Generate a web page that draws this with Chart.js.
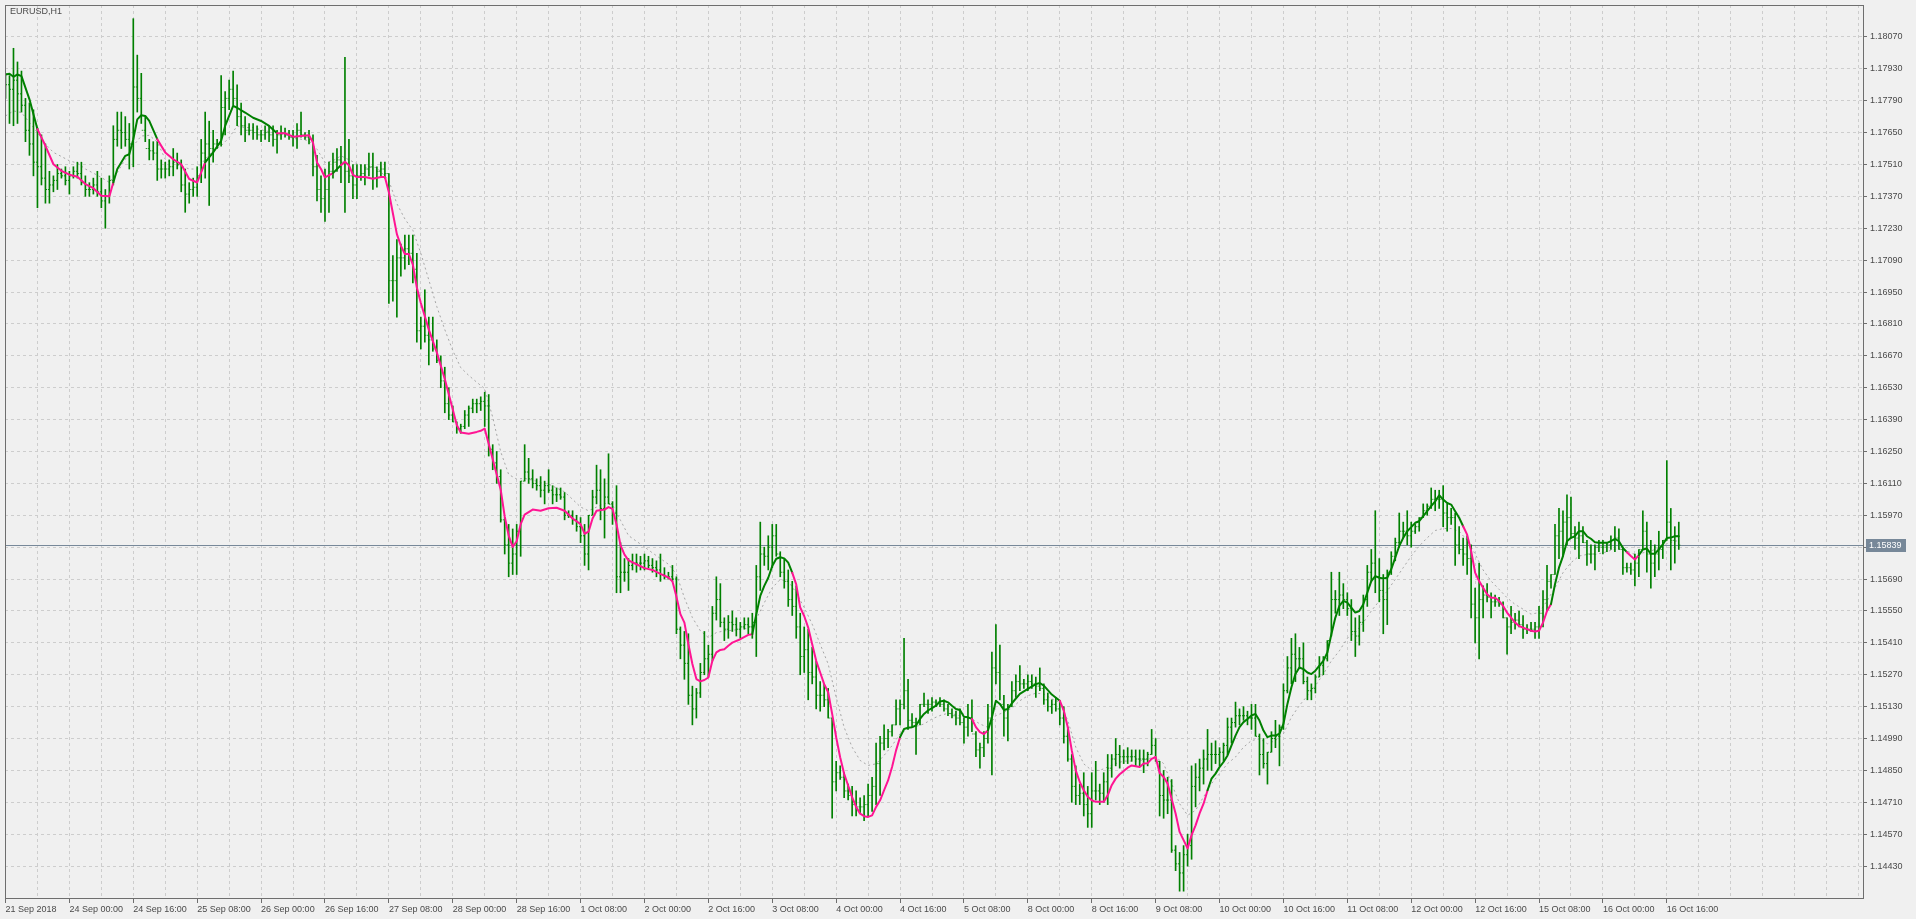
<!DOCTYPE html>
<html>
<head>
<meta charset="utf-8">
<title>EURUSD,H1</title>
<script src="https://cdn.jsdelivr.net/npm/chart.js@4.4.0/dist/chart.umd.min.js"></script>
<style>
  html, body { margin: 0; padding: 0; background: #f0f0f0; overflow: hidden; }
  canvas { display: block; }
</style>
</head>
<body>
<canvas id="chart" width="1916" height="919"></canvas>
<script>
// EURUSD H1, 21 Sep 2018 08:00 .. 16 Oct 2018 19:00 (one entry per hourly bar)
const symbolName = 'EURUSD,H1';

// labels under every 16th bar
const timeLabels = ['21 Sep 2018','24 Sep 00:00','24 Sep 16:00','25 Sep 08:00','26 Sep 00:00','26 Sep 16:00',
  '27 Sep 08:00','28 Sep 00:00','28 Sep 16:00','1 Oct 08:00','2 Oct 00:00','2 Oct 16:00','3 Oct 08:00',
  '4 Oct 00:00','4 Oct 16:00','5 Oct 08:00','8 Oct 00:00','8 Oct 16:00','9 Oct 08:00','10 Oct 00:00',
  '10 Oct 16:00','11 Oct 08:00','12 Oct 00:00','12 Oct 16:00','15 Oct 08:00','16 Oct 00:00','16 Oct 16:00'];

const priceTicks = [1.14430,1.14570,1.14710,1.14850,1.14990,1.15130,1.15270,1.15410,1.15550,1.15690,
  1.15830,1.15970,1.16110,1.16250,1.16390,1.16530,1.16670,1.16810,1.16950,1.17090,1.17230,1.17370,
  1.17510,1.17650,1.17790,1.17930,1.18070];

const highs = [
  1.1791,1.1790,1.1802,1.1796,1.1792,1.1780,1.1778,1.1775,1.1767,1.1764,
  1.1760,1.1748,1.1746,1.1751,1.1749,1.1750,1.1748,1.1750,1.1752,1.1752,
  1.1746,1.1743,1.1745,1.1748,1.1745,1.1740,1.1746,1.1768,1.1774,1.1774,
  1.1772,1.1769,1.1815,1.1799,1.1791,1.1772,1.1762,1.1761,1.1761,1.1753,
  1.1752,1.1753,1.1758,1.1756,1.1753,1.1749,1.1743,1.1745,1.1750,1.1762,
  1.1774,1.1770,1.1766,1.1762,1.1790,1.1783,1.1788,1.1792,1.1786,1.1778,
  1.1772,1.1769,1.1769,1.1768,1.1766,1.1768,1.1768,1.1768,1.1766,1.1768,
  1.1767,1.1766,1.1766,1.1769,1.1774,1.1765,1.1766,1.1764,1.1755,1.1746,
  1.1749,1.1752,1.1756,1.1758,1.1759,1.1798,1.1762,1.1751,1.1751,1.1751,
  1.1751,1.1756,1.1756,1.1750,1.1752,1.1752,1.1747,1.1711,1.1718,1.1716,
  1.1720,1.1720,1.1720,1.1712,1.1684,1.1696,1.1684,1.1684,1.1674,1.1667,
  1.1662,1.1653,1.1645,1.1638,1.1637,1.1643,1.1645,1.1648,1.1648,1.1649,
  1.1651,1.1650,1.1628,1.1625,1.1617,1.1596,1.1593,1.1591,1.1593,1.1612,
  1.1628,1.1622,1.1617,1.1613,1.1614,1.1612,1.1617,1.1610,1.1609,1.1609,
  1.1607,1.1599,1.1599,1.1597,1.1596,1.1593,1.1597,1.1608,1.1619,1.1617,
  1.1613,1.1624,1.1603,1.1610,1.1585,1.1578,1.1578,1.1580,1.1580,1.1579,
  1.1580,1.1579,1.1578,1.1577,1.1580,1.1574,1.1572,1.1575,1.1570,1.1548,
  1.1546,1.1545,1.1522,1.1521,1.1532,1.1546,1.1540,1.1557,1.1570,1.1567,
  1.1552,1.1553,1.1555,1.1552,1.1550,1.1552,1.1552,1.1554,1.1575,1.1594,
  1.1583,1.1588,1.1593,1.1593,1.1581,1.1578,1.1573,1.1568,1.1566,1.1554,
  1.1548,1.1547,1.1539,1.1533,1.1524,1.1523,1.1521,1.1508,1.1489,1.1487,
  1.1484,1.1479,1.1478,1.1476,1.1473,1.1474,1.1479,1.1482,1.1497,1.1500,
  1.1505,1.1503,1.1505,1.1516,1.1516,1.1543,1.1525,1.1510,1.1508,1.1514,
  1.1519,1.1516,1.1517,1.1516,1.1517,1.1516,1.1514,1.1512,1.1511,1.1512,
  1.1508,1.1514,1.1516,1.1502,1.1497,1.1502,1.1514,1.1537,1.1549,1.1540,
  1.1518,1.1514,1.1524,1.1527,1.1531,1.1525,1.1527,1.1527,1.1526,1.1530,
  1.1523,1.1519,1.1516,1.1517,1.1515,1.1513,1.1504,1.1492,1.1487,1.1479,
  1.1484,1.1478,1.1484,1.1489,1.1479,1.1484,1.1492,1.1492,1.1499,1.1496,
  1.1494,1.1495,1.1494,1.1494,1.1494,1.1494,1.1493,1.1503,1.1499,1.1489,
  1.1485,1.1482,1.1481,1.1452,1.1449,1.1452,1.1457,1.1487,1.1488,1.1490,
  1.1494,1.1503,1.1497,1.1498,1.1495,1.1497,1.1508,1.1508,1.1515,1.1512,
  1.1513,1.1511,1.1514,1.1514,1.1501,1.1499,1.1493,1.1502,1.1507,1.1505,
  1.1523,1.1535,1.1543,1.1545,1.1539,1.1541,1.1526,1.1523,1.1527,1.1535,
  1.1535,1.1542,1.1572,1.1564,1.1572,1.1567,1.1563,1.1560,1.1552,1.1553,
  1.1562,1.1575,1.1582,1.1599,1.1578,1.1571,1.1573,1.1581,1.1587,1.1598,
  1.1594,1.1599,1.1594,1.1593,1.1596,1.1602,1.1602,1.1609,1.1608,1.1608,
  1.1610,1.1602,1.1600,1.1598,1.1592,1.1587,1.1588,1.1584,1.1565,1.1576,
  1.1566,1.1567,1.1563,1.1562,1.1561,1.1559,1.1552,1.1557,1.1554,1.1555,
  1.1553,1.1549,1.1550,1.1550,1.1557,1.1564,1.1575,1.1571,1.1593,1.1600,
  1.1599,1.1606,1.1605,1.1592,1.1594,1.1592,1.1586,1.1584,1.1584,1.1586,
  1.1586,1.1585,1.1588,1.1592,1.1591,1.1583,1.1576,1.1576,1.1580,1.1582,
  1.1599,1.1594,1.1586,1.1584,1.1590,1.1586,1.1621,1.1600,1.1592,1.1594
];

const lows = [
  1.1780,1.1769,1.1768,1.1769,1.1774,1.1761,1.1755,1.1746,1.1732,1.1742,
  1.1734,1.1734,1.1739,1.1740,1.1745,1.1742,1.1738,1.1745,1.1745,1.1742,
  1.1737,1.1737,1.1738,1.1737,1.1732,1.1723,1.1734,1.1742,1.1759,1.1758,
  1.1759,1.1749,1.1750,1.1774,1.1769,1.1761,1.1753,1.1753,1.1744,1.1745,
  1.1745,1.1746,1.1746,1.1749,1.1739,1.1730,1.1734,1.1737,1.1737,1.1743,
  1.1745,1.1733,1.1752,1.1758,1.1759,1.1764,1.1775,1.1777,1.1768,1.1764,
  1.1761,1.1764,1.1762,1.1762,1.1761,1.1762,1.1761,1.1759,1.1756,1.1762,
  1.1763,1.1762,1.1759,1.1758,1.1763,1.1762,1.1760,1.1746,1.1735,1.1730,
  1.1726,1.1730,1.1745,1.1748,1.1743,1.1730,1.1743,1.1736,1.1736,1.1744,
  1.1742,1.1746,1.1740,1.1741,1.1746,1.1745,1.1690,1.1691,1.1684,1.1702,
  1.1705,1.1707,1.1699,1.1673,1.1670,1.1673,1.1663,1.1669,1.1664,1.1653,
  1.1642,1.1639,1.1638,1.1633,1.1633,1.1635,1.1636,1.1642,1.1642,1.1643,
  1.1636,1.1623,1.1617,1.1611,1.1594,1.1580,1.1570,1.1571,1.1571,1.1579,
  1.1612,1.1611,1.1609,1.1608,1.1605,1.1602,1.1607,1.1602,1.1603,1.1604,
  1.1595,1.1596,1.1593,1.1590,1.1585,1.1575,1.1573,1.1597,1.1602,1.1595,
  1.1587,1.1602,1.1593,1.1563,1.1563,1.1568,1.1564,1.1573,1.1572,1.1573,
  1.1573,1.1574,1.1572,1.1570,1.1568,1.1569,1.1569,1.1568,1.1545,1.1534,
  1.1525,1.1514,1.1505,1.1508,1.1517,1.1527,1.1526,1.1533,1.1551,1.1548,
  1.1542,1.1543,1.1546,1.1544,1.1543,1.1547,1.1545,1.1543,1.1535,1.1564,
  1.1575,1.1573,1.1574,1.1579,1.1570,1.1565,1.1557,1.1553,1.1543,1.1527,
  1.1528,1.1516,1.1523,1.1512,1.1511,1.1513,1.1508,1.1464,1.1476,1.1481,
  1.1473,1.1472,1.1465,1.1465,1.1466,1.1463,1.1465,1.1467,1.1470,1.1474,
  1.1494,1.1495,1.1500,1.1505,1.1505,1.1512,1.1503,1.1504,1.1492,1.1505,
  1.1513,1.1510,1.1511,1.1513,1.1513,1.1511,1.1509,1.1508,1.1505,1.1505,
  1.1497,1.1500,1.1502,1.1491,1.1486,1.1491,1.1497,1.1483,1.1523,1.1516,
  1.1500,1.1498,1.1513,1.1517,1.1520,1.1521,1.1520,1.1521,1.1517,1.1520,
  1.1514,1.1511,1.1510,1.1511,1.1505,1.1497,1.1489,1.1471,1.1470,1.1470,
  1.1465,1.1460,1.1460,1.1472,1.1470,1.1471,1.1470,1.1482,1.1487,1.1486,
  1.1488,1.1488,1.1489,1.1487,1.1487,1.1484,1.1487,1.1492,1.1489,1.1465,
  1.1464,1.1466,1.1449,1.1441,1.1432,1.1432,1.1443,1.1446,1.1469,1.1476,
  1.1479,1.1485,1.1485,1.1488,1.1487,1.1489,1.1492,1.1497,1.1504,1.1505,
  1.1507,1.1505,1.1503,1.1500,1.1483,1.1486,1.1479,1.1493,1.1495,1.1487,
  1.1503,1.1519,1.1523,1.1524,1.1530,1.1523,1.1516,1.1516,1.1519,1.1526,
  1.1527,1.1533,1.1544,1.1554,1.1553,1.1556,1.1553,1.1542,1.1535,1.1540,
  1.1546,1.1557,1.1568,1.1563,1.1559,1.1545,1.1549,1.1571,1.1577,1.1583,
  1.1587,1.1584,1.1583,1.1589,1.1590,1.1596,1.1597,1.1600,1.1599,1.1600,
  1.1592,1.1590,1.1593,1.1575,1.1580,1.1575,1.1571,1.1552,1.1541,1.1534,
  1.1552,1.1559,1.1552,1.1557,1.1557,1.1552,1.1536,1.1545,1.1547,1.1548,
  1.1543,1.1545,1.1546,1.1543,1.1543,1.1548,1.1555,1.1565,1.1571,1.1578,
  1.1579,1.1584,1.1587,1.1582,1.1578,1.1585,1.1575,1.1576,1.1573,1.1581,
  1.1580,1.1581,1.1582,1.1581,1.1582,1.1571,1.1572,1.1571,1.1566,1.1570,
  1.1582,1.1572,1.1565,1.1570,1.1573,1.1578,1.1586,1.1573,1.1576,1.1582
];

const opens = [
  1.1788,1.1786,1.1784,1.1788,1.1782,1.1777,1.1766,1.1760,1.1752,1.1750,
  1.1745,1.1740,1.1742,1.1744,1.1747,1.1746,1.1744,1.1746,1.1748,1.1747,
  1.1743,1.1740,1.1740,1.1742,1.1739,1.1735,1.1737,1.1744,1.1762,1.1766,
  1.1765,1.1762,1.1760,1.1785,1.1780,1.1766,1.1758,1.1757,1.1756,1.1749,
  1.1749,1.1749,1.1750,1.1752,1.1751,1.1742,1.1738,1.1740,1.1741,1.1746,
  1.1756,1.1760,1.1758,1.1760,1.1760,1.1776,1.1780,1.1784,1.1780,1.1772,
  1.1768,1.1766,1.1766,1.1765,1.1764,1.1764,1.1765,1.1764,1.1762,1.1764,
  1.1765,1.1764,1.1763,1.1763,1.1766,1.1764,1.1763,1.1762,1.1750,1.1740,
  1.1736,1.1740,1.1748,1.1752,1.1753,1.1752,1.1748,1.1746,1.1742,1.1746,
  1.1747,1.1749,1.1750,1.1745,1.1748,1.1749,1.1747,1.1700,1.1700,1.1710,
  1.1710,1.1714,1.1712,1.1705,1.1678,1.1680,1.1676,1.1674,1.1670,1.1665,
  1.1656,1.1646,1.1641,1.1638,1.1635,1.1636,1.1641,1.1644,1.1646,1.1646,
  1.1647,1.1645,1.1626,1.1620,1.1614,1.1595,1.1584,1.1576,1.1580,1.1590,
  1.1612,1.1616,1.1613,1.1611,1.1610,1.1608,1.1610,1.1608,1.1606,1.1606,
  1.1605,1.1597,1.1597,1.1595,1.1592,1.1588,1.1580,1.1597,1.1605,1.1608,
  1.1600,1.1605,1.1602,1.1598,1.1570,1.1572,1.1572,1.1575,1.1576,1.1576,
  1.1576,1.1577,1.1575,1.1574,1.1573,1.1571,1.1570,1.1570,1.1569,1.1547,
  1.1540,1.1532,1.1518,1.1512,1.1519,1.1528,1.1534,1.1536,1.1554,1.1560,
  1.1550,1.1547,1.1550,1.1549,1.1547,1.1548,1.1549,1.1548,1.1550,1.1570,
  1.1580,1.1579,1.1583,1.1588,1.1580,1.1572,1.1568,1.1560,1.1557,1.1548,
  1.1535,1.1538,1.1528,1.1526,1.1518,1.1518,1.1516,1.1508,1.1480,1.1484,
  1.1482,1.1476,1.1474,1.1470,1.1469,1.1469,1.1470,1.1474,1.1478,1.1488,
  1.1497,1.1499,1.1502,1.1505,1.1512,1.1514,1.1520,1.1507,1.1506,1.1506,
  1.1514,1.1514,1.1514,1.1515,1.1515,1.1514,1.1512,1.1510,1.1509,1.1508,
  1.1506,1.1504,1.1508,1.1501,1.1494,1.1495,1.1499,1.1508,1.1530,1.1528,
  1.1514,1.1508,1.1513,1.1520,1.1524,1.1523,1.1523,1.1524,1.1523,1.1522,
  1.1521,1.1516,1.1513,1.1514,1.1512,1.1508,1.1500,1.1490,1.1478,1.1474,
  1.1475,1.1470,1.1466,1.1476,1.1476,1.1475,1.1480,1.1486,1.1490,1.1492,
  1.1491,1.1491,1.1491,1.1491,1.1490,1.1490,1.1490,1.1492,1.1496,1.1489,
  1.1474,1.1472,1.1472,1.1450,1.1444,1.1440,1.1448,1.1452,1.1478,1.1482,
  1.1486,1.1490,1.1492,1.1492,1.1492,1.1493,1.1496,1.1504,1.1506,1.1509,
  1.1509,1.1509,1.1508,1.1508,1.1500,1.1492,1.1488,1.1493,1.1499,1.1500,
  1.1504,1.1520,1.1530,1.1536,1.1534,1.1534,1.1524,1.1520,1.1521,1.1526,
  1.1531,1.1534,1.1542,1.1560,1.1560,1.1562,1.1560,1.1556,1.1546,1.1544,
  1.1550,1.1560,1.1572,1.1576,1.1570,1.1564,1.1560,1.1572,1.1579,1.1585,
  1.1590,1.1590,1.1588,1.1590,1.1592,1.1596,1.1599,1.1601,1.1604,1.1604,
  1.1604,1.1598,1.1596,1.1596,1.1584,1.1582,1.1580,1.1578,1.1558,1.1552,
  1.1560,1.1562,1.1561,1.1559,1.1559,1.1558,1.1552,1.1548,1.1550,1.1551,
  1.1549,1.1547,1.1547,1.1547,1.1548,1.1554,1.1560,1.1568,1.1571,1.1588,
  1.1590,1.1594,1.1596,1.1589,1.1587,1.1588,1.1585,1.1580,1.1580,1.1583,
  1.1583,1.1583,1.1584,1.1586,1.1587,1.1582,1.1574,1.1574,1.1573,1.1576,
  1.1582,1.1590,1.1580,1.1576,1.1580,1.1582,1.1586,1.1594,1.1586,1.1588
];

const closes = [
  1.1786,1.1784,1.1788,1.1782,1.1777,1.1766,1.1760,1.1752,1.1750,1.1745,
  1.1740,1.1742,1.1744,1.1747,1.1746,1.1744,1.1746,1.1748,1.1747,1.1743,
  1.1740,1.1740,1.1742,1.1739,1.1735,1.1737,1.1744,1.1762,1.1766,1.1765,
  1.1762,1.1760,1.1785,1.1780,1.1766,1.1758,1.1757,1.1756,1.1749,1.1749,
  1.1749,1.1750,1.1752,1.1751,1.1742,1.1738,1.1740,1.1741,1.1746,1.1756,
  1.1760,1.1758,1.1760,1.1760,1.1776,1.1780,1.1784,1.1780,1.1772,1.1768,
  1.1766,1.1766,1.1765,1.1764,1.1764,1.1765,1.1764,1.1762,1.1764,1.1765,
  1.1764,1.1763,1.1763,1.1766,1.1764,1.1763,1.1762,1.1750,1.1740,1.1736,
  1.1740,1.1748,1.1752,1.1753,1.1752,1.1748,1.1746,1.1742,1.1746,1.1747,
  1.1749,1.1750,1.1745,1.1748,1.1749,1.1747,1.1700,1.1700,1.1710,1.1710,
  1.1714,1.1712,1.1705,1.1678,1.1680,1.1676,1.1674,1.1670,1.1665,1.1656,
  1.1646,1.1641,1.1638,1.1635,1.1636,1.1641,1.1644,1.1646,1.1646,1.1647,
  1.1645,1.1626,1.1620,1.1614,1.1595,1.1584,1.1576,1.1580,1.1590,1.1612,
  1.1616,1.1613,1.1611,1.1610,1.1608,1.1610,1.1608,1.1606,1.1606,1.1605,
  1.1597,1.1597,1.1595,1.1592,1.1588,1.1580,1.1597,1.1605,1.1608,1.1600,
  1.1605,1.1602,1.1598,1.1570,1.1572,1.1572,1.1575,1.1576,1.1576,1.1576,
  1.1577,1.1575,1.1574,1.1573,1.1571,1.1570,1.1570,1.1569,1.1547,1.1540,
  1.1532,1.1518,1.1512,1.1519,1.1528,1.1534,1.1536,1.1554,1.1560,1.1550,
  1.1547,1.1550,1.1549,1.1547,1.1548,1.1549,1.1548,1.1550,1.1570,1.1580,
  1.1579,1.1583,1.1588,1.1580,1.1572,1.1568,1.1560,1.1557,1.1548,1.1535,
  1.1538,1.1528,1.1526,1.1518,1.1518,1.1516,1.1508,1.1480,1.1484,1.1482,
  1.1476,1.1474,1.1470,1.1469,1.1469,1.1470,1.1474,1.1478,1.1488,1.1497,
  1.1499,1.1502,1.1505,1.1512,1.1514,1.1520,1.1507,1.1506,1.1506,1.1514,
  1.1514,1.1514,1.1515,1.1515,1.1514,1.1512,1.1510,1.1509,1.1508,1.1506,
  1.1504,1.1508,1.1501,1.1494,1.1495,1.1499,1.1508,1.1530,1.1528,1.1514,
  1.1508,1.1513,1.1520,1.1524,1.1523,1.1523,1.1524,1.1523,1.1522,1.1521,
  1.1516,1.1513,1.1514,1.1512,1.1508,1.1500,1.1490,1.1478,1.1474,1.1475,
  1.1470,1.1466,1.1476,1.1476,1.1475,1.1480,1.1486,1.1490,1.1492,1.1491,
  1.1491,1.1491,1.1491,1.1490,1.1490,1.1490,1.1492,1.1496,1.1489,1.1474,
  1.1472,1.1472,1.1450,1.1444,1.1440,1.1448,1.1452,1.1478,1.1482,1.1486,
  1.1490,1.1492,1.1492,1.1492,1.1493,1.1496,1.1504,1.1506,1.1509,1.1509,
  1.1509,1.1508,1.1508,1.1500,1.1492,1.1488,1.1493,1.1499,1.1500,1.1504,
  1.1520,1.1530,1.1536,1.1534,1.1534,1.1524,1.1520,1.1521,1.1526,1.1531,
  1.1534,1.1542,1.1560,1.1560,1.1562,1.1560,1.1556,1.1546,1.1544,1.1550,
  1.1560,1.1572,1.1576,1.1570,1.1564,1.1560,1.1572,1.1579,1.1585,1.1590,
  1.1590,1.1588,1.1590,1.1592,1.1596,1.1599,1.1601,1.1604,1.1604,1.1604,
  1.1598,1.1596,1.1596,1.1584,1.1582,1.1580,1.1578,1.1558,1.1552,1.1560,
  1.1562,1.1561,1.1559,1.1559,1.1558,1.1552,1.1548,1.1550,1.1551,1.1549,
  1.1547,1.1547,1.1547,1.1548,1.1554,1.1560,1.1568,1.1571,1.1588,1.1590,
  1.1594,1.1596,1.1589,1.1587,1.1588,1.1585,1.1580,1.1580,1.1583,1.1583,
  1.1583,1.1584,1.1586,1.1587,1.1582,1.1574,1.1574,1.1573,1.1576,1.1582,
  1.1590,1.1580,1.1576,1.1580,1.1582,1.1586,1.1594,1.1586,1.1588,1.15839
];

// fast trend line: [bar, price]
const trendLine = [
  [0,1.17905],[1,1.17908],[2,1.17895],[3,1.17905],[4,1.17898],[6,1.17796],[8,1.17665],[10,1.17592],[12,1.17511],[14,1.17482],
  [16,1.17465],[18,1.17456],[20,1.17424],[22,1.17406],[24,1.17373],[26,1.17370],[27,1.17431],[28,1.17490],[30,1.17548],[31,1.17555],
  [32,1.17621],[33,1.17708],[34,1.17726],[35,1.17723],[36,1.17701],[38,1.17621],[40,1.17563],[42,1.17533],[44,1.17511],[46,1.17446],
  [48,1.17431],[49,1.17475],[50,1.17519],[52,1.17563],[54,1.17614],[55,1.17679],[56,1.17723],[57,1.17767],[58,1.17759],[60,1.17738],
  [62,1.17715],[64,1.17701],[66,1.17679],[68,1.17647],[70,1.17647],[72,1.17632],[74,1.17635],[76,1.17638],[77,1.17606],[78,1.17519],
  [79,1.17490],[80,1.17453],[82,1.17472],[84,1.17507],[85,1.17522],[86,1.17506],[87,1.17464],[88,1.17455],[90,1.17455],[92,1.17447],
  [94,1.17455],[95,1.17455],[96,1.17388],[97,1.17296],[98,1.17204],[99,1.17154],[100,1.17117],[101,1.17117],[102,1.17070],[103,1.16970],
  [104,1.16902],[106,1.16785],[108,1.16685],[110,1.16568],[112,1.16434],[113,1.16366],[114,1.16333],[116,1.16328],[118,1.16336],[119,1.16341],
  [120,1.16350],[121,1.16283],[122,1.16216],[123,1.16149],[124,1.16082],[125,1.15965],[126,1.15881],[127,1.15831],[128,1.15856],[129,1.15931],
  [130,1.15973],[132,1.15995],[134,1.15990],[136,1.16001],[138,1.16003],[140,1.15990],[142,1.15956],[144,1.15931],[145,1.15889],[146,1.15898],
  [147,1.15956],[148,1.15990],[150,1.15995],[151,1.16006],[152,1.15998],[153,1.15931],[154,1.15839],[155,1.15797],[156,1.15772],[158,1.15755],
  [160,1.15738],[162,1.15730],[164,1.15713],[166,1.15697],[167,1.15680],[168,1.15613],[169,1.15536],[170,1.15499],[171,1.15404],[172,1.15317],
  [173,1.15251],[174,1.15241],[175,1.15247],[176,1.15258],[177,1.15331],[178,1.15368],[179,1.15379],[180,1.15382],[181,1.15397],[182,1.15411],
  [184,1.15426],[186,1.15445],[187,1.15448],[188,1.15535],[189,1.15616],[190,1.15660],[191,1.15696],[192,1.15747],[193,1.15779],[194,1.15786],
  [195,1.15781],[196,1.15762],[197,1.15718],[198,1.15667],[199,1.15565],[200,1.15528],[201,1.15477],[202,1.15404],[203,1.15331],[204,1.15280],
  [205,1.15229],[206,1.15193],[207,1.15098],[208,1.14996],[209,1.14908],[210,1.14835],[211,1.14784],[212,1.14733],[213,1.14690],[214,1.14660],
  [215,1.14649],[216,1.14646],[217,1.14653],[218,1.14690],[219,1.14719],[220,1.14763],[221,1.14806],[222,1.14865],[223,1.14938],[224,1.14996],
  [225,1.15032],[226,1.15037],[227,1.15040],[228,1.15047],[229,1.15076],[230,1.15098],[231,1.15113],[232,1.15124],[233,1.15134],[234,1.15153],
  [235,1.15156],[236,1.15149],[237,1.15134],[238,1.15120],[239,1.15115],[240,1.15086],[241,1.15083],[242,1.15076],[243,1.15040],[244,1.15018],
  [245,1.15010],[246,1.15025],[247,1.15083],[248,1.15156],[249,1.15142],[250,1.15115],[251,1.15120],[252,1.15145],[254,1.15186],[256,1.15208],
  [258,1.15229],[259,1.15234],[260,1.15222],[262,1.15183],[264,1.15156],[265,1.15113],[266,1.15040],[267,1.14938],[268,1.14850],[269,1.14799],
  [270,1.14763],[271,1.14734],[272,1.14719],[273,1.14712],[275,1.14712],[276,1.14741],[277,1.14785],[278,1.14814],[279,1.14833],[280,1.14847],
  [281,1.14862],[282,1.14872],[283,1.14868],[284,1.14865],[285,1.14880],[286,1.14882],[287,1.14901],[288,1.14909],[289,1.14839],[290,1.14821],
  [291,1.14792],[292,1.14726],[293,1.14661],[294,1.14580],[295,1.14544],[296,1.14508],[297,1.14566],[298,1.14609],[299,1.14661],[300,1.14704],
  [301,1.14763],[302,1.14814],[303,1.14836],[304,1.14865],[305,1.14887],[306,1.14916],[307,1.14960],[308,1.15003],[309,1.15040],[310,1.15062],
  [311,1.15076],[312,1.15091],[313,1.15098],[314,1.15069],[315,1.15025],[316,1.14996],[317,1.15003],[318,1.15003],[319,1.15011],[320,1.15054],
  [321,1.15142],[322,1.15215],[323,1.15273],[324,1.15302],[325,1.15295],[326,1.15280],[327,1.15273],[328,1.15288],[329,1.15310],[330,1.15331],
  [331,1.15368],[332,1.15448],[333,1.15521],[334,1.15572],[335,1.15594],[336,1.15587],[337,1.15565],[338,1.15543],[339,1.15550],[340,1.15580],
  [341,1.15630],[342,1.15681],[343,1.15703],[344,1.15696],[345,1.15693],[346,1.15696],[347,1.15733],[348,1.15784],[349,1.15835],[350,1.15871],
  [351,1.15900],[352,1.15918],[353,1.15937],[354,1.15944],[355,1.15966],[356,1.15988],[357,1.16010],[358,1.16031],[359,1.16058],[360,1.16039],
  [361,1.16024],[362,1.16017],[363,1.15988],[364,1.15959],[365,1.15922],[366,1.15885],[367,1.15813],[368,1.15718],[369,1.15681],[370,1.15652],
  [371,1.15623],[372,1.15608],[373,1.15608],[374,1.15594],[375,1.15572],[376,1.15543],[377,1.15521],[378,1.15499],[379,1.15484],[380,1.15477],
  [381,1.15470],[382,1.15463],[383,1.15460],[384,1.15463],[385,1.15499],[386,1.15550],[387,1.15580],[388,1.15667],[389,1.15740],[390,1.15791],
  [391,1.15856],[392,1.15871],[393,1.15878],[394,1.15900],[395,1.15900],[396,1.15878],[397,1.15867],[398,1.15852],[399,1.15849],[400,1.15849],
  [401,1.15849],[402,1.15856],[403,1.15867],[404,1.15856],[405,1.15827],[406,1.15808],[407,1.15791],[408,1.15776],[409,1.15795],[410,1.15820],
  [411,1.15824],[412,1.15801],[413,1.15801],[414,1.15820],[415,1.15842],[416,1.15870],[417,1.15872],[418,1.15878],[419,1.15878]
];

// bar ranges where the trend line is painted in the "down" colour
const downRuns = [[8,26.5],[38.5,49.5],[67.5,81.5],[84.5,187],[197.5,224],[242,246],[264,301],[365.5,387],[406.5,408.5]];

// slow dotted average: [bar, price]
const slowLine = [
  [0,1.17723],[2,1.17745],[4,1.17738],[6,1.17694],[8,1.17650],[10,1.17599],[12,1.17563],[14,1.17545],[16,1.17526],[18,1.17516],
  [20,1.17490],[22,1.17472],[24,1.17453],[26,1.17431],[28,1.17475],[30,1.17533],[32,1.17592],[34,1.17635],[36,1.17638],[38,1.17609],
  [40,1.17533],[42,1.17511],[44,1.17504],[46,1.17490],[48,1.17490],[50,1.17533],[52,1.17570],[54,1.17592],[56,1.17628],[58,1.17679],
  [60,1.17672],[62,1.17672],[64,1.17662],[66,1.17654],[68,1.17643],[70,1.17643],[72,1.17624],[74,1.17621],[76,1.17614],[78,1.17577],
  [80,1.17519],[82,1.17526],[84,1.17548],[87,1.17522],[90,1.17497],[93,1.17497],[96,1.17439],[98,1.17338],[100,1.17271],[102,1.17221],
  [104,1.17120],[106,1.17003],[108,1.16886],[110,1.16785],[112,1.16693],[114,1.16618],[116,1.16584],[118,1.16554],[120,1.16526],[122,1.16400],
  [124,1.16249],[126,1.16149],[128,1.16129],[130,1.16132],[132,1.16124],[134,1.16115],[136,1.16107],[138,1.16090],[140,1.16073],[142,1.16040],
  [144,1.16006],[146,1.15990],[148,1.16006],[150,1.16023],[152,1.16015],[154,1.15948],[156,1.15881],[158,1.15856],[160,1.15831],[162,1.15805],
  [164,1.15780],[166,1.15755],[168,1.15712],[170,1.15608],[172,1.15521],[174,1.15463],[176,1.15433],[178,1.15455],[180,1.15463],[182,1.15465],
  [184,1.15470],[186,1.15474],[188,1.15514],[190,1.15586],[192,1.15652],[194,1.15688],[196,1.15681],[198,1.15630],[200,1.15565],[202,1.15492],
  [204,1.15404],[206,1.15317],[208,1.15171],[210,1.15039],[212,1.14952],[214,1.14894],[216,1.14872],[218,1.14879],[220,1.14916],[222,1.14959],
  [224,1.15011],[226,1.15032],[228,1.15043],[230,1.15054],[232,1.15076],[234,1.15091],[236,1.15101],[238,1.15095],[240,1.15083],[242,1.15076],
  [244,1.15054],[246,1.15039],[248,1.15091],[250,1.15105],[252,1.15123],[254,1.15156],[256,1.15178],[258,1.15189],[260,1.15186],[262,1.15164],
  [264,1.15149],[266,1.15069],[268,1.14952],[270,1.14879],[272,1.14850],[274,1.14850],[276,1.14865],[278,1.14880],[280,1.14891],[282,1.14891],
  [284,1.14891],[286,1.14901],[288,1.14909],[290,1.14880],[292,1.14792],[294,1.14704],[296,1.14653],[298,1.14675],[300,1.14734],[302,1.14792],
  [304,1.14836],[306,1.14880],[308,1.14909],[310,1.14952],[312,1.14981],[314,1.14989],[316,1.14967],[318,1.14981],[320,1.15011],[322,1.15084],
  [324,1.15135],[326,1.15178],[328,1.15222],[330,1.15273],[332,1.15331],[334,1.15375],[336,1.15430],[338,1.15455],[340,1.15499],[342,1.15550],
  [344,1.15594],[346,1.15638],[348,1.15689],[350,1.15740],[352,1.15791],[354,1.15835],[356,1.15871],[358,1.15903],[360,1.15912],[362,1.15912],
  [364,1.15900],[366,1.15860],[368,1.15800],[370,1.15730],[372,1.15681],[374,1.15645],[376,1.15608],[378,1.15579],[380,1.15558],[382,1.15536],
  [384,1.15543],[386,1.15594],[388,1.15652],[390,1.15718],[392,1.15762],[394,1.15791],[396,1.15798],[398,1.15798],[400,1.15805],[402,1.15816],
  [404,1.15824],[406,1.15813],[408,1.15798],[410,1.15805],[412,1.15813],[414,1.15827],[416,1.15845],[418,1.15856],[419,1.15859]
];

const lastPrice = closes[closes.length - 1];

// look
const bgColor = '#f0f0f0';
const frameColor = '#6e6e6e';
const gridColor = '#cdcdcd';
const barColor = '#008000';
const upColor = '#008000';
const downColor = '#ff1493';
const slowColor = '#a6a6a6';
const priceColor = '#778899';
const textColor = '#4a4a4a';
const fontFamily = "'Liberation Sans', Arial, sans-serif";
const tickFont = { family: fontFamily, size: 9 };

const isDown = b => downRuns.some(r => b >= r[0] && b <= r[1]);

const gridBars = [];
for (let b = 0; b <= 464; b += 8) gridBars.push(b);

const terminalChrome = {
  id: 'terminalChrome',
  beforeDraw(chart) {
    const c = chart.ctx;
    c.save();
    c.fillStyle = bgColor;
    c.fillRect(0, 0, chart.width, chart.height);
    c.restore();
  },
  beforeDatasetsDraw(chart) {
    const c = chart.ctx, a = chart.chartArea;
    const py = Math.round(chart.scales.y.getPixelForValue(lastPrice)) + 0.5;
    c.save();
    c.strokeStyle = priceColor;
    c.lineWidth = 1;
    c.beginPath();
    c.moveTo(a.left, py);
    c.lineTo(a.right, py);
    c.stroke();
    c.restore();
  },
  afterDraw(chart) {
    const c = chart.ctx, a = chart.chartArea;
    c.save();
    c.strokeStyle = frameColor;
    c.lineWidth = 1;
    c.strokeRect(a.left + 0.5, a.top + 0.5, a.right - a.left, a.bottom - a.top);

    c.font = '9px ' + fontFamily;
    c.textBaseline = 'middle';
    c.fillStyle = textColor;
    c.fillText(symbolName, a.left + 5, a.top + 7);

    const py = Math.round(chart.scales.y.getPixelForValue(lastPrice));
    c.fillStyle = priceColor;
    c.fillRect(a.right + 3, py - 6, 40, 13);
    c.fillStyle = '#ffffff';
    c.fillText(lastPrice.toFixed(5), a.right + 6, py + 0.5);
    c.restore();
  }
};

new Chart(document.getElementById('chart'), {
  type: 'scatter',
  data: {
    datasets: [
      {
        type: 'line',
        label: 'slow',
        data: slowLine.map(([x, y]) => ({ x, y })),
        borderColor: slowColor,
        borderWidth: 1,
        borderDash: [2, 3],
        pointRadius: 0,
        tension: 0,
        order: 5
      },
      {
        type: 'bar',
        label: 'range',
        data: highs.map((h, i) => ({ x: i, y: [lows[i], h] })),
        backgroundColor: barColor,
        borderWidth: 0,
        barThickness: 1,
        order: 4
      },
      {
        label: 'open',
        data: opens.map((v, i) => ({ x: i - 0.25, y: v })),
        pointStyle: 'line',
        pointRadius: 0.5,
        pointBorderColor: barColor,
        pointBorderWidth: 1,
        order: 3
      },
      {
        label: 'close',
        data: closes.map((v, i) => ({ x: i + 0.25, y: v })),
        pointStyle: 'line',
        pointRadius: 0.5,
        pointBorderColor: barColor,
        pointBorderWidth: 1,
        order: 2
      },
      {
        type: 'line',
        label: 'trend',
        data: trendLine.map(([x, y]) => ({ x, y })),
        borderColor: upColor,
        borderWidth: 2,
        borderJoinStyle: 'round',
        borderCapStyle: 'round',
        pointRadius: 0,
        tension: 0,
        segment: {
          borderColor: s => isDown((s.p0.parsed.x + s.p1.parsed.x) / 2) ? downColor : upColor
        },
        order: 1
      }
    ]
  },
  options: {
    responsive: false,
    devicePixelRatio: 1,
    animation: false,
    events: [],
    layout: { padding: { left: 2, top: 2, right: 0, bottom: 0 } },
    plugins: { legend: { display: false }, tooltip: { enabled: false } },
    scales: {
      x: {
        type: 'linear',
        position: 'bottom',
        min: -0.125,
        max: 465.125,
        offset: false,
        afterBuildTicks: s => { s.ticks = gridBars.map(v => ({ value: v })); },
        afterFit: s => { s.height = 21; s.paddingLeft = 0; s.paddingRight = 0; },
        grid: {
          offset: false,
          color: gridColor,
          tickLength: 5,
          tickColor: c => (c.tick && c.tick.value % 16 === 0 && timeLabels[c.tick.value / 16]) ? frameColor : 'rgba(0,0,0,0)'
        },
        border: { display: false, dash: [3, 3] },
        ticks: {
          autoSkip: false,
          maxRotation: 0,
          minRotation: 0,
          align: 'start',
          padding: 1,
          color: textColor,
          font: tickFont,
          callback: v => (v % 16 === 0 && timeLabels[v / 16]) ? timeLabels[v / 16] : ''
        }
      },
      y: {
        type: 'linear',
        position: 'right',
        min: 1.14290,
        max: 1.18210,
        afterBuildTicks: s => { s.ticks = priceTicks.map(v => ({ value: v })); },
        afterFit: s => { s.width = 53; s.paddingTop = 0; s.paddingBottom = 0; },
        grid: { color: gridColor, tickLength: 4, tickColor: frameColor },
        border: { display: false, dash: [3, 3] },
        ticks: {
          padding: 3,
          color: textColor,
          font: tickFont,
          callback: v => v.toFixed(5)
        }
      }
    }
  },
  plugins: [terminalChrome]
});
</script>
</body>
</html>
